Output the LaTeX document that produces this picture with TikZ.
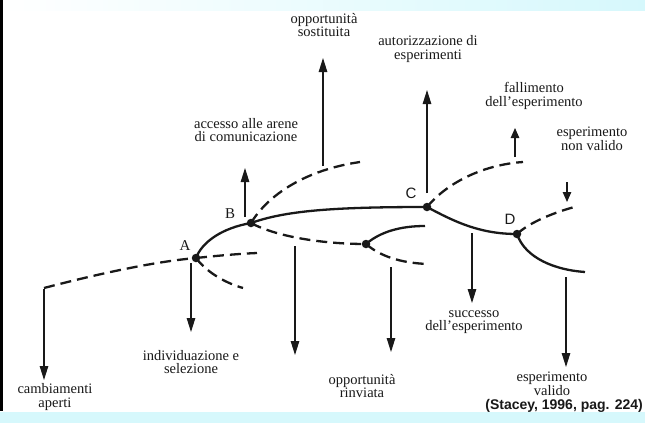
\documentclass[tikz,border=0pt]{standalone}
\usepackage{fontspec}
\setmainfont{Liberation Serif}
\setsansfont{Liberation Sans}
\usetikzlibrary{arrows.meta}
\definecolor{paleCyan}{RGB}{214,248,252}
\definecolor{ink}{RGB}{25,25,25}
\tikzset{
  branch/.style={line width=2.3pt, draw=ink, line cap=butt},
  dashbranch/.style={branch, dash pattern=on 11pt off 6pt},
  outarrow/.style={line width=1.2pt, draw=ink, -{Triangle[length=14pt,width=8.5pt]}},
  shortarrow/.style={line width=1.2pt, draw=ink, -{Triangle[length=10pt,width=8.5pt]}},
  junction/.style={circle, fill=ink, inner sep=0pt, minimum size=8.5pt},
  caption/.style={align=center, text=ink, font=\fontsize{14.5}{13.5}\selectfont, inner sep=0pt},
  pointname/.style={text=ink, inner sep=0pt, font=\fontsize{15}{15}\selectfont},
}
\begin{document}
\begin{tikzpicture}[x=1pt, y=-1pt]
  \useasboundingbox (0,0) rectangle (645,423);
  % page background with its tinted strips and left rule
  \fill[white] (0,0) rectangle (645,423);
  \shade[left color=white, right color=paleCyan] (0,0) rectangle (645,10);
  \fill[paleCyan] (0,412) rectangle (645,423);
  \fill[black] (0,0) rectangle (3,411);

  % branching points
  \node[junction] (A) at (196,258) {};
  \node[junction] (B) at (251,223) {};
  \node[junction] (C) at (427,207) {};
  \node[junction] (D) at (517,234) {};
  \node[junction] (E) at (366,244) {};

  \node[pointname] (lA) at (185,246) {A};
  \node[pointname] (lB) at (230,214) {B};
  \node[pointname, font=\sffamily\fontsize{15}{15}\selectfont] (lC) at (411,193) {C};
  \node[pointname, font=\sffamily\fontsize{15}{15}\selectfont] (lD) at (510,219) {D};

  % free ends of the branches
  \coordinate (a0) at (44,288);
  \coordinate (aR) at (257,253);
  \coordinate (aL) at (243,288);
  \coordinate (bU) at (360,162);
  \coordinate (eU) at (425,226);
  \coordinate (eD) at (428,264);
  \coordinate (cU) at (523,162);
  \coordinate (dU) at (578,206);
  \coordinate (dD) at (585,272);

  % branches
  \draw[dashbranch] (a0) .. controls (90,276) and (150,262) .. (A.center);
  \draw[dashbranch] (A.center) .. controls (215,256) and (235,254) .. (aR);
  \draw[dashbranch] (A.center) .. controls (205,270) and (222,282) .. (aL);
  \draw[branch] (A.center) .. controls (202,242) and (222,228) .. (B.center);
  \draw[dashbranch] (B.center) .. controls (268,195) and (305,170) .. (bU);
  \draw[branch] (B.center) .. controls (285,211) and (330,207) .. (C.center);
  \draw[dashbranch] (B.center) .. controls (275,236) and (320,244) .. (E.center);
  \draw[branch] (E.center) .. controls (380,232) and (400,226) .. (eU);
  \draw[dashbranch] (E.center) .. controls (380,256) and (400,263) .. (eD);
  \draw[dashbranch] (C.center) .. controls (445,185) and (480,165) .. (cU);
  \draw[branch] (C.center) .. controls (455,222) and (480,234) .. (D.center);
  \draw[dashbranch] (D.center) .. controls (530,222) and (555,212) .. (dU);
  \draw[branch] (D.center) .. controls (525,258) and (555,270) .. (dD);

  % outcome labels
  \node[caption] (tCamb) at (55,397) {cambiamenti\\aperti};
  \node[caption] (tIndiv) at (191,362) {individuazione e\\selezione};
  \node[caption] (tRinv) at (362,386) {opportunità\\rinviata};
  \node[caption] (tSucc) at (474,322) {successo\\dell’esperimento};
  \node[caption] (tValid) at (552,384) {esperimento\\valido};
  \node[caption] (tSost) at (324,25) {opportunità\\sostituita};
  \node[caption] (tAcc) at (246,130) {accesso alle arene\\di comunicazione};
  \node[caption] (tAut) at (428,49) {autorizzazione di\\esperimenti};
  \node[caption] (tFall) at (534,96) {fallimento\\dell’esperimento};
  \node[caption] (tNonv) at (592,139) {esperimento\\non valido};

  % arrow anchors
  \coordinate (s1) at (44,289);   \coordinate (t1) at (44,380);
  \coordinate (s2) at (191,263);  \coordinate (t2) at (191,332);
  \coordinate (s3) at (295,246);  \coordinate (t3) at (295,355);
  \coordinate (s4) at (391,267);  \coordinate (t4) at (391,352);
  \coordinate (s5) at (472,233);  \coordinate (t5) at (472,303);
  \coordinate (s6) at (566,277);  \coordinate (t6) at (566,367);
  \coordinate (s7) at (245,217);  \coordinate (t7) at (245,168);
  \coordinate (s8) at (323,166);  \coordinate (t8) at (323,58);
  \coordinate (s9) at (427,193);  \coordinate (t9) at (427,90);
  \coordinate (s10) at (515,157); \coordinate (t10) at (515,128);
  \coordinate (s11) at (567,182); \coordinate (t11) at (567,202);

  \draw[outarrow] (s1) -- (t1);
  \draw[outarrow] (s2) -- (t2);
  \draw[outarrow] (s3) -- (t3);
  \draw[outarrow] (s4) -- (t4);
  \draw[outarrow] (s5) -- (t5);
  \draw[outarrow] (s6) -- (t6);
  \draw[outarrow] (s7) -- (t7);
  \draw[outarrow] (s8) -- (t8);
  \draw[outarrow] (s9) -- (t9);
  \draw[shortarrow] (s10) -- (t10);
  \draw[shortarrow] (s11) -- (t11);

  % source
  \node[anchor=base east, inner sep=0pt, text=ink, font=\sffamily\bfseries\fontsize{14}{14}\selectfont] (src) at (643,409) {(Stacey, 1996, pag. 224)};
\end{tikzpicture}
\end{document}
